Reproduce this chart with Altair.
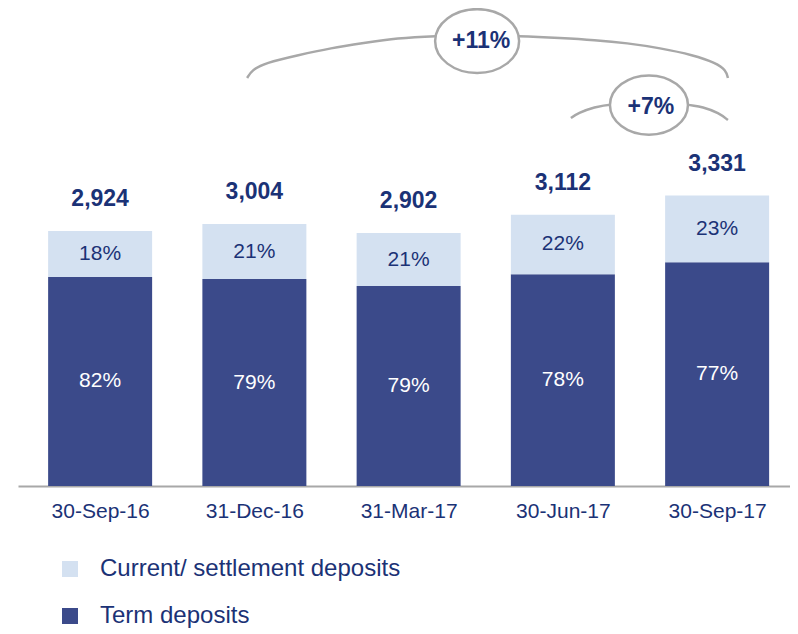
import altair as alt
import pandas as pd

# ---- data ----
dates = ["30-Sep-16", "31-Dec-16", "31-Mar-17", "30-Jun-17", "30-Sep-17"]
totals = [2924, 3004, 2902, 3112, 3331]
term_pct = [82, 79, 79, 78, 77]
current_pct = [18, 21, 21, 22, 23]
seg_current = "Current/ settlement deposits"
seg_term = "Term deposits"

growth_labels = ["+11%", "+7%"]
growth_label_x = [2.47, 3.57]
growth_label_y = [5103, 4346]
ellipse_11_x, ellipse_11_y = [2.444], [5103]
ellipse_7_x, ellipse_7_y = [3.558], [4369]

arc_11_x = [0.953, 0.985, 1.068, 1.286, 1.497, 1.708, 1.926, 2.169, 2.444,
            2.713, 2.988, 3.206, 3.417, 3.629, 3.846, 3.993, 4.057, 4.070]
arc_11_y = [4679, 4771, 4851, 4943, 5023, 5080, 5138, 5161, 5172,
            5161, 5138, 5115, 5080, 5023, 4943, 4851, 4771, 4679]
arc_7_x = [3.052, 3.097, 3.206, 3.308, 3.558, 3.801, 3.910, 4.012, 4.070]
arc_7_y = [4220, 4278, 4346, 4381, 4404, 4381, 4346, 4278, 4197]

# ---- styling ----
FONT = "Liberation Sans"
NAVY = "#1b3276"
DARK = "#3b4a8a"
LIGHT = "#d4e1f1"
GRAY = "#a8a8a8"

rows = []
for i, (d, t, tp, cp) in enumerate(zip(dates, totals, term_pct, current_pct)):
    term_amt = t * tp / 100
    rows.append(dict(idx=i, date=d, seg=seg_term, y0=0, y1=term_amt,
                     mid=term_amt / 2, label=f"{tp}%"))
    rows.append(dict(idx=i, date=d, seg=seg_current, y0=term_amt, y1=t,
                     mid=(term_amt + t) / 2, label=f"{cp}%"))
bars_df = pd.DataFrame(rows)
term_df = bars_df[bars_df.seg == seg_term]
cur_df = bars_df[bars_df.seg == seg_current]
tot_df = pd.DataFrame(dict(idx=list(range(len(dates))), total=totals))

arcs_df = pd.concat([
    pd.DataFrame(dict(ax=arc_11_x, ay=arc_11_y, arc="a11")),
    pd.DataFrame(dict(ax=arc_7_x, ay=arc_7_y, arc="a7")),
], ignore_index=True)
glab_df = pd.DataFrame(dict(gx=growth_label_x, gy=growth_label_y, label=growth_labels))
e11_df = pd.DataFrame(dict(ex=ellipse_11_x, ey=ellipse_11_y))
e7_df = pd.DataFrame(dict(ex=ellipse_7_x, ey=ellipse_7_y))

xscale = alt.Scale(domain=[-0.5, 4.44], nice=False, zero=False)
yscale = alt.Scale(domain=[0, 5482], nice=False)

label_expr = "'" + dates[-1] + "'"
for i in range(len(dates) - 2, -1, -1):
    label_expr = f"datum.value == {i} ? '{dates[i]}' : ({label_expr})"

x_axis = alt.Axis(values=list(range(len(dates))), labelExpr=label_expr,
                  title=None, grid=False, ticks=False, domainColor=GRAY,
                  domainWidth=2, labelFont=FONT, labelFontSize=21,
                  labelColor=NAVY, labelPadding=14, labelFlush=False)


def X(field):
    return alt.X(field, scale=xscale, axis=x_axis)


def Y(field):
    return alt.Y(field, scale=yscale, axis=None)


bars = alt.Chart(bars_df).mark_bar(width=104).encode(
    x=X("idx:Q"),
    y=Y("y1:Q"),
    y2="y0:Q",
    color=alt.Color("seg:N",
                    scale=alt.Scale(domain=[seg_current, seg_term], range=[LIGHT, DARK]),
                    legend=alt.Legend(title=None, orient="none", legendX=40, legendY=549,
                                      direction="vertical", symbolType="square",
                                      symbolSize=256, symbolStrokeWidth=0,
                                      labelFont=FONT, labelFontSize=24,
                                      labelColor=NAVY, labelOffset=18,
                                      labelLimit=400, rowPadding=23)),
)


def seg_labels(df, col):
    return alt.Chart(df).mark_text(font=FONT, fontSize=21, baseline="middle", color=col).encode(
        x=X("idx:Q"), y=Y("mid:Q"), text="label:N")


tot_text = alt.Chart(tot_df).mark_text(font=FONT, fontSize=23, fontWeight="bold",
                                       baseline="middle", dy=-32, color=NAVY).encode(
    x=X("idx:Q"), y=Y("total:Q"), text=alt.Text("total:Q", format=",.0f"))

arcs = alt.Chart(arcs_df).mark_line(interpolate="basis", color=GRAY, strokeWidth=2.5).encode(
    x=X("ax:Q"), y=Y("ay:Q"), detail="arc:N")

ELLIPSE = ("M-1,0C-1,-0.42,-0.552,-0.76,0,-0.76C0.552,-0.76,1,-0.42,1,0"
           "C1,0.42,0.552,0.76,0,0.76C-0.552,0.76,-1,0.42,-1,0Z")
e11 = alt.Chart(e11_df).mark_point(shape=ELLIPSE, size=7056, fill="white", stroke=GRAY,
                                   strokeWidth=2.5, opacity=1).encode(
    x=X("ex:Q"), y=Y("ey:Q"))
e7 = alt.Chart(e7_df).mark_point(shape=ELLIPSE, size=6084, fill="white", stroke=GRAY,
                                 strokeWidth=2.5, opacity=1).encode(
    x=X("ex:Q"), y=Y("ey:Q"))

glab = alt.Chart(glab_df).mark_text(font=FONT, fontSize=23, fontWeight="bold",
                                    baseline="middle", color=NAVY).encode(
    x=X("gx:Q"), y=Y("gy:Q"), text="label:N")

chart = alt.layer(bars, arcs, e11, e7, glab, seg_labels(term_df, "white"),
                  seg_labels(cur_df, NAVY), tot_text).properties(
    width=772, height=478,
    padding={"left": 10, "top": 0, "right": 0, "bottom": 146},
    autosize=alt.AutoSizeParams(type="none"),
).configure_view(stroke=None)

chart.save("out.html", embed_options={"renderer": "svg", "actions": False})
